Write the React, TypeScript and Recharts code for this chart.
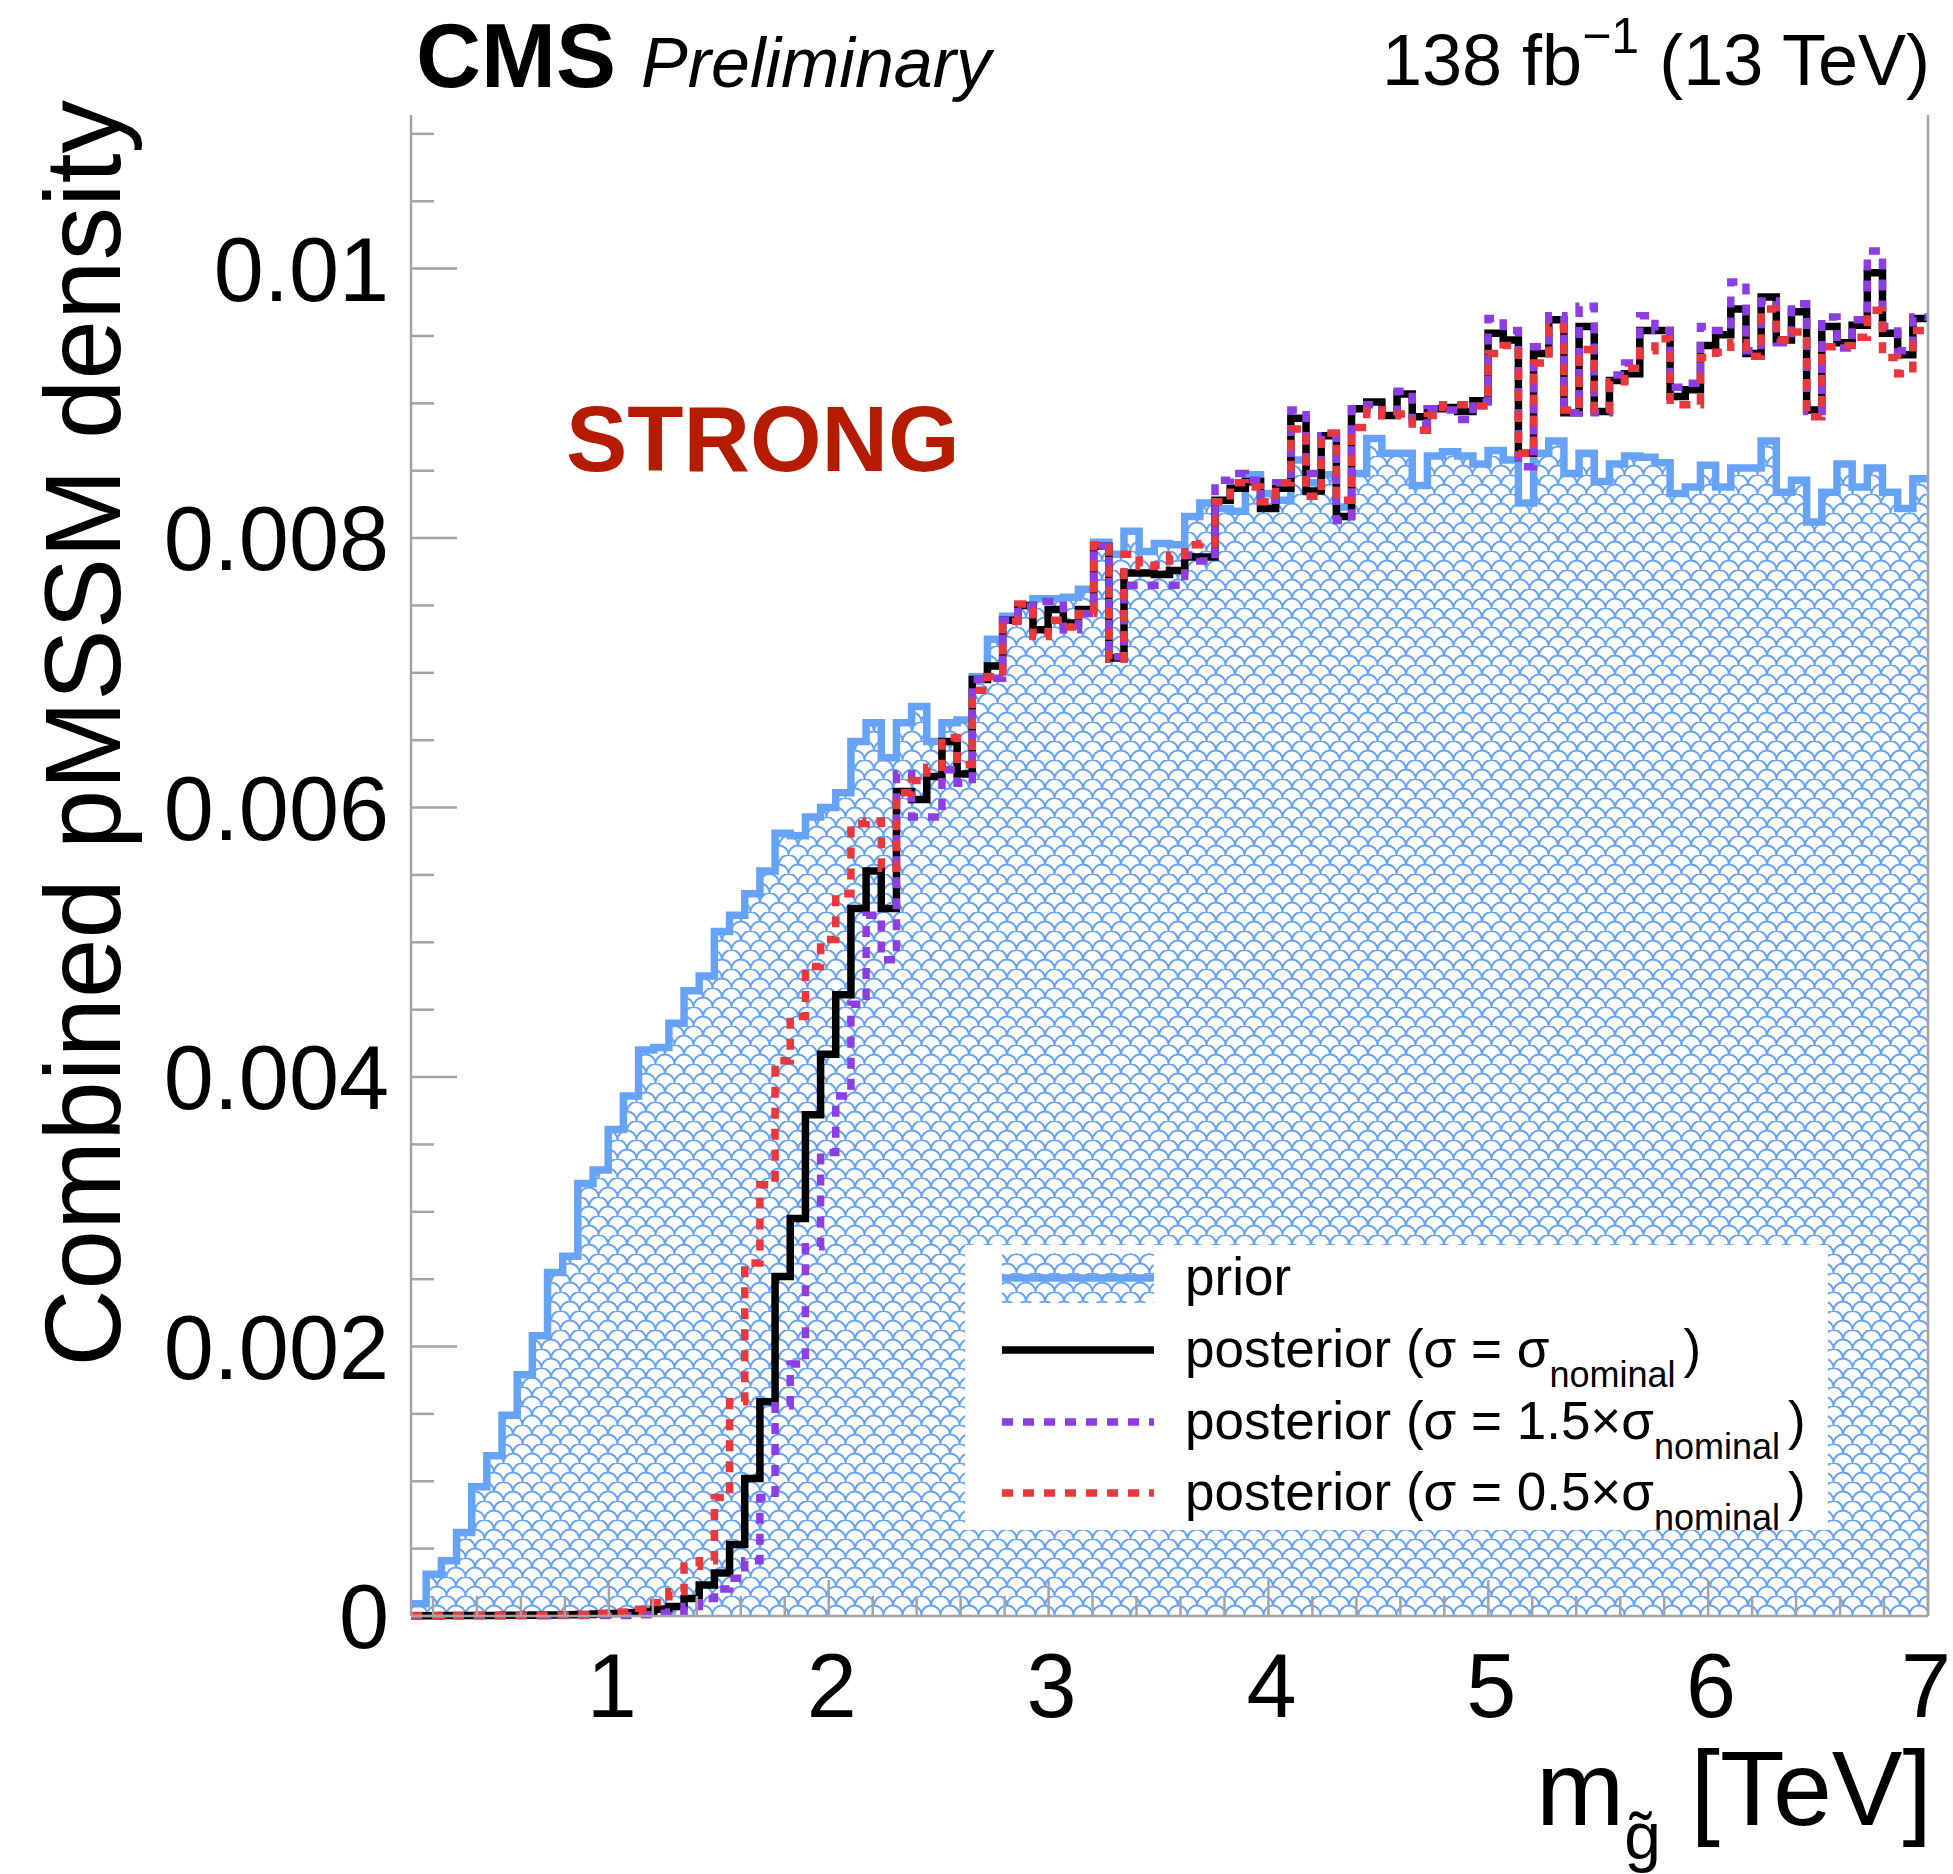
import React from 'react';
import { ComposedChart, Area, Line, XAxis, YAxis } from 'recharts';

const FONT = '"Liberation Sans", Arial, Helvetica, sans-serif';
const FRAME = '#a3a3a3';
const BLUE = '#66a3f7';
const PURPLE = '#8c3ee3';
const RED = '#e8383d';
const STRONG_RED = '#b51b00';

// gluino mass histogram: 100 bins from 0.1 to 7.0 TeV
const BIN_LOW = 0.1;
const BIN_WIDTH = 0.069;

// densities per bin, in units of 1e-3
const prior = [
  0.09, 0.31, 0.41, 0.62, 0.96, 1.19, 1.49, 1.79, 2.08, 2.55,
  2.67, 3.21, 3.31, 3.61, 3.86, 4.2, 4.22, 4.4, 4.64, 4.75,
  5.08, 5.2, 5.36, 5.53, 5.81, 5.79, 5.93, 6.0, 6.11, 6.49,
  6.63, 6.37, 6.63, 6.75, 6.49, 6.63, 6.65, 6.97, 7.25, 7.42,
  7.5, 7.55, 7.55, 7.56, 7.62, 7.97, 7.88, 8.05, 7.9, 7.96,
  7.95, 8.16, 8.26, 8.22, 8.2, 8.47, 8.33, 8.28, 8.58, 8.41,
  8.47, 8.23, 8.48, 8.74, 8.63, 8.63, 8.39, 8.61, 8.64, 8.61,
  8.55, 8.65, 8.58, 8.26, 8.63, 8.72, 8.48, 8.63, 8.42, 8.55,
  8.61, 8.6, 8.56, 8.33, 8.38, 8.54, 8.38, 8.52, 8.52, 8.72,
  8.34, 8.43, 8.12, 8.34, 8.55, 8.38, 8.52, 8.34, 8.22, 8.44,
];

const postNominal = [
  0.002, 0.002, 0.003, 0.003, 0.004, 0.004, 0.005, 0.006, 0.007, 0.008,
  0.009, 0.011, 0.014, 0.018, 0.025, 0.035, 0.05, 0.07, 0.13, 0.23,
  0.32, 0.53, 1.02, 1.59, 2.52, 2.95, 3.72, 4.17, 4.61, 5.25,
  5.53, 5.25, 6.12, 6.06, 6.23, 6.49, 6.25, 6.95, 7.05, 7.39,
  7.5, 7.32, 7.47, 7.37, 7.47, 7.94, 7.11, 7.74, 7.74, 7.73,
  7.76, 7.86, 7.86, 8.28, 8.37, 8.42, 8.22, 8.37, 8.89, 8.35,
  8.76, 8.16, 8.96, 9.01, 8.91, 9.07, 8.9, 8.96, 8.97, 8.94,
  9.02, 9.52, 9.47, 8.63, 9.37, 9.62, 8.93, 9.57, 8.94, 9.17,
  9.22, 9.54, 9.54, 9.05, 9.1, 9.43, 9.51, 9.7, 9.37, 9.79,
  9.47, 9.68, 8.95, 9.57, 9.45, 9.58, 9.97, 9.52, 9.36, 9.63,
];

// sigma = 1.5 x nominal
const postUp = [
  0.001, 0.001, 0.001, 0.001, 0.002, 0.002, 0.002, 0.002, 0.002, 0.003,
  0.003, 0.003, 0.003, 0.003, 0.004, 0.01, 0.02, 0.03, 0.07, 0.13,
  0.2, 0.28, 0.41, 0.88, 1.56, 1.87, 2.74, 3.44, 3.86, 4.54,
  5.2, 4.87, 6.25, 5.93, 5.93, 6.28, 6.18, 6.95, 6.96, 7.39,
  7.49, 7.53, 7.53, 7.32, 7.44, 7.94, 7.12, 7.65, 7.65, 7.65,
  7.65, 7.87, 7.83, 8.43, 8.48, 8.43, 8.28, 8.41, 8.95, 8.48,
  8.76, 8.13, 8.96, 8.99, 8.92, 9.09, 8.84, 8.96, 8.95, 8.88,
  9.01, 9.63, 9.54, 8.53, 9.42, 9.65, 8.93, 9.72, 8.93, 9.21,
  9.3, 9.65, 9.54, 9.12, 9.15, 9.57, 9.54, 9.9, 9.39, 9.76,
  9.45, 9.74, 8.94, 9.64, 9.41, 9.62, 10.13, 9.57, 9.39, 9.64,
];

// sigma = 0.5 x nominal
const postDown = [
  0.003, 0.003, 0.004, 0.004, 0.005, 0.005, 0.006, 0.006, 0.007, 0.008,
  0.008, 0.01, 0.02, 0.03, 0.03, 0.05, 0.1, 0.18, 0.37, 0.41,
  0.88, 1.59, 2.62, 3.2, 4.12, 4.45, 4.82, 5.02, 5.36, 5.88,
  5.9, 5.55, 6.11, 6.2, 6.3, 6.52, 6.32, 6.87, 6.97, 7.38,
  7.51, 7.27, 7.39, 7.34, 7.44, 7.95, 7.1, 7.88, 7.79, 7.8,
  7.87, 7.95, 7.96, 8.27, 8.41, 8.38, 8.27, 8.41, 8.81, 8.31,
  8.78, 8.28, 8.82, 8.95, 8.91, 8.92, 8.8, 8.91, 8.99, 8.99,
  8.98, 9.37, 9.43, 8.63, 9.3, 9.57, 8.95, 9.4, 8.95, 9.16,
  9.26, 9.39, 9.48, 8.99, 8.99, 9.34, 9.38, 9.45, 9.35, 9.7,
  9.47, 9.53, 8.9, 9.42, 9.43, 9.49, 9.69, 9.34, 9.22, 9.54,
];

const xTicks = [
  0.2, 0.4, 0.6, 0.8, 1, 1.2, 1.4, 1.6, 1.8, 2, 2.2, 2.4, 2.6, 2.8, 3,
  3.2, 3.4, 3.6, 3.8, 4, 4.2, 4.4, 4.6, 4.8, 5, 5.2, 5.4, 5.6, 5.8, 6,
  6.2, 6.4, 6.6, 6.8, 7,
];
const yTicks = [0, 0.5, 1, 1.5, 2, 2.5, 3, 3.5, 4, 4.5, 5, 5.5, 6, 6.5, 7, 7.5, 8, 8.5, 9, 9.5, 10, 10.5, 11];

// step points at each bin's low edge, plus the upper edge of the last bin
const rows = Array.from({ length: prior.length + 1 }, (_, i) => {
  const b = Math.min(i, prior.length - 1);
  return {
    x: BIN_LOW + BIN_WIDTH * i,
    prior: prior[b],
    nominal: postNominal[b],
    up: postUp[b],
    down: postDown[b],
  };
});

const isMajorX = (v: number) => Math.abs(v - Math.round(v)) < 1e-6;
const isMajorY = (v: number) => Math.abs(v / 2 - Math.round(v / 2)) < 1e-6;
const fmtY = (v: number) => (v === 0 ? '0' : String(+(v / 1000).toFixed(4)));

function BottomTick({ x, y, payload }: any) {
  const major = isMajorX(payload.value);
  // last label sits on the frame edge, keep it inside the canvas
  const dx = payload.value >= 7 ? -2 : 3;
  return (
    <g>
      <line x1={x} x2={x} y1={y} y2={y - (major ? 36 : 20)} stroke={FRAME} strokeWidth={2.5} />
      {major && (
        <text x={x + dx} y={y + 101} textAnchor="middle" fontSize={90} fontFamily={FONT} fill="#000">
          {Math.round(payload.value)}
        </text>
      )}
    </g>
  );
}

function TopTick({ x, y, payload }: any) {
  const major = isMajorX(payload.value);
  return <line x1={x} x2={x} y1={y} y2={y + (major ? 36 : 20)} stroke={FRAME} strokeWidth={2.5} />;
}

function LeftTick({ x, y, payload }: any) {
  const major = isMajorY(payload.value);
  return (
    <g>
      <line x1={x} x2={x + (major ? 46 : 23)} y1={y} y2={y} stroke={FRAME} strokeWidth={2.5} />
      {major && (
        <text x={x - 22} y={y + 32} textAnchor="end" fontSize={90} fontFamily={FONT} fill="#000">
          {fmtY(payload.value)}
        </text>
      )}
    </g>
  );
}

function RightTick({ x, y, payload }: any) {
  const major = isMajorY(payload.value);
  return <line x1={x} x2={x - (major ? 46 : 23)} y1={y} y2={y} stroke={FRAME} strokeWidth={2.5} />;
}

// fish-scale hatch used by the prior fill
function Scales({ id, r, sw }: { id: string; r: number; sw: number }) {
  return (
    <pattern id={id} patternUnits="userSpaceOnUse" width={2 * r} height={2 * r}>
      <path
        d={`M0,${r} A${r},${r} 0 0 1 ${2 * r},${r} M${-r},${2 * r} A${r},${r} 0 0 1 ${r},${2 * r} M${r},${2 * r} A${r},${r} 0 0 1 ${3 * r},${2 * r}`}
        fill="none"
        stroke={BLUE}
        strokeWidth={sw}
      />
    </pattern>
  );
}

const legendRows = [1278, 1350, 1422, 1493];

function Overlay() {
  const sub = (t: string) => (
    <tspan fontSize={36} dy={20}>{t}</tspan>
  );
  return (
    <svg
      width={1953}
      height={1874}
      style={{ position: 'absolute', left: 0, top: 0, pointerEvents: 'none' }}
      fontFamily={FONT}
    >
      <defs>
        <Scales id="scalesLeg" r={9.5} sw={2} />
      </defs>
      {/* header */}
      <text x={416} y={87} fontSize={90} fontWeight="bold">CMS</text>
      <text x={641} y={87} fontSize={70} fontStyle="italic">Preliminary</text>
      <text x={1930} y={85} fontSize={72} textAnchor="end">
        138 fb<tspan fontSize={50} dy={-32}>−1</tspan>
        <tspan fontSize={72} dy={32}> (13 TeV)</tspan>
      </text>
      <text x={566} y={471} fontSize={92} fontWeight="bold" fill={STRONG_RED}>STRONG</text>

      {/* axis titles */}
      <text transform="translate(120,100) rotate(-90)" textAnchor="end" fontSize={107}>
        Combined pMSSM density
      </text>
      <text x={1932} y={1825} fontSize={106} textAnchor="end">
        m<tspan fontSize={66} dy={34}>{'g\u0303'}</tspan>
        <tspan fontSize={106} dy={-34}> [TeV]</tspan>
      </text>

      {/* legend */}
      <rect x={965} y={1245} width={863} height={285} fill="#fff" />
      <rect x={1002} y={1253} width={152} height={50} fill="url(#scalesLeg)" />
      <line x1={1002} x2={1154} y1={legendRows[0]} y2={legendRows[0]} stroke={BLUE} strokeWidth={7.5} />
      <line x1={1002} x2={1154} y1={legendRows[1]} y2={legendRows[1]} stroke="#000" strokeWidth={7.5} />
      <line x1={1002} x2={1154} y1={legendRows[2]} y2={legendRows[2]} stroke={PURPLE} strokeWidth={7.5} strokeDasharray="11 10" />
      <line x1={1002} x2={1154} y1={legendRows[3]} y2={legendRows[3]} stroke={RED} strokeWidth={7.5} strokeDasharray="11 10" />
      <text x={1185} y={legendRows[0] + 17} fontSize={53}>prior</text>
      <text x={1185} y={legendRows[1] + 17} fontSize={53}>
        posterior (σ = σ{sub('nominal')}<tspan dx={8} dy={-20}>)</tspan>
      </text>
      <text x={1185} y={legendRows[2] + 17} fontSize={53}>
        posterior (σ = 1.5×σ{sub('nominal')}<tspan dx={8} dy={-20}>)</tspan>
      </text>
      <text x={1185} y={legendRows[3] + 17} fontSize={53}>
        posterior (σ = 0.5×σ{sub('nominal')}<tspan dx={8} dy={-20}>)</tspan>
      </text>
    </svg>
  );
}

export default function App() {
  return (
    <div style={{ position: 'absolute', left: 0, top: 0, width: 1953, height: 1874, background: '#fff' }}>
      <ComposedChart width={1953} height={1874} data={rows} margin={{ top: 115, right: 24, bottom: 0, left: 0 }}>
        <defs>
          <Scales id="scales" r={9.5} sw={2} />
        </defs>
        <Area
          xAxisId="b"
          yAxisId="l"
          type="stepAfter"
          dataKey="prior"
          stroke={BLUE}
          strokeWidth={7.5}
          fill="url(#scales)"
          fillOpacity={1}
          isAnimationActive={false}
        />
        <Line xAxisId="b" yAxisId="l" type="stepAfter" dataKey="nominal" stroke="#000" strokeWidth={7.5} dot={false} isAnimationActive={false} />
        <Line xAxisId="b" yAxisId="l" type="stepAfter" dataKey="up" stroke={PURPLE} strokeWidth={7.5} strokeDasharray="11 10" dot={false} isAnimationActive={false} />
        <Line xAxisId="b" yAxisId="l" type="stepAfter" dataKey="down" stroke={RED} strokeWidth={7.5} strokeDasharray="11 10" dot={false} isAnimationActive={false} />
        <XAxis
          xAxisId="b"
          dataKey="x"
          type="number"
          domain={[0.1, 7]}
          ticks={xTicks}
          interval={0}
          height={258}
          tickSize={0}
          tickMargin={0}
          tickLine={false}
          tick={<BottomTick />}
          axisLine={{ stroke: FRAME, strokeWidth: 2.5 }}
        />
        <XAxis
          xAxisId="t"
          orientation="top"
          dataKey="x"
          type="number"
          domain={[0.1, 7]}
          ticks={xTicks}
          interval={0}
          height={0}
          tickSize={0}
          tickMargin={0}
          tickLine={false}
          tick={<TopTick />}
          axisLine={{ stroke: FRAME, strokeWidth: 2.5 }}
        />
        <YAxis
          yAxisId="l"
          type="number"
          domain={[0, 11.14]}
          ticks={yTicks}
          interval={0}
          width={411}
          tickSize={0}
          tickMargin={0}
          tickLine={false}
          tick={<LeftTick />}
          axisLine={{ stroke: FRAME, strokeWidth: 2.5 }}
        />
        <YAxis
          yAxisId="r"
          orientation="right"
          type="number"
          domain={[0, 11.14]}
          ticks={yTicks}
          interval={0}
          width={1}
          tickSize={0}
          tickMargin={0}
          tickLine={false}
          tick={<RightTick />}
          axisLine={{ stroke: FRAME, strokeWidth: 2.5 }}
        />
      </ComposedChart>
      <Overlay />
    </div>
  );
}
